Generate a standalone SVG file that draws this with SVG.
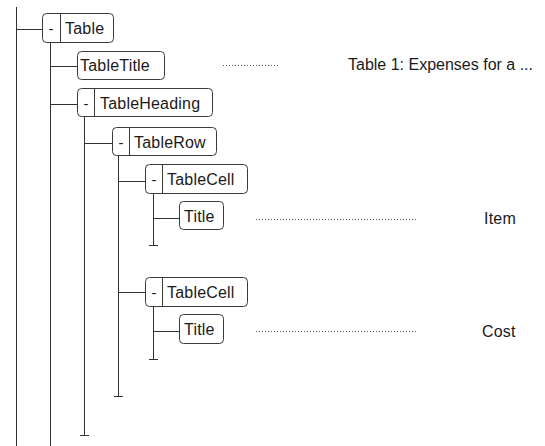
<svg xmlns="http://www.w3.org/2000/svg" width="545" height="446" viewBox="0 0 545 446">
<style>
.bg{fill:#fff}
.box{fill:#fff;stroke:#3a3a3a;stroke-width:1}
.sep{stroke:#3a3a3a;stroke-width:1}
.ln{stroke:#333;stroke-width:1;fill:none}
.dot{stroke:#555;stroke-width:1;stroke-dasharray:1 2;fill:none}
.t{font-family:"Liberation Sans",Arial,sans-serif;font-size:16px;fill:#1a1a1a;letter-spacing:0.2px}
.v{font-family:"Liberation Sans",Arial,sans-serif;font-size:16px;fill:#1a1a1a}
.m{font-family:"Liberation Sans",Arial,sans-serif;font-size:15px;fill:#1a1a1a}
</style>
<rect class="bg" x="0" y="0" width="545" height="446"/>
<g id="connectors">
<path class="ln" d="M16.5 7V446"/>
<path class="ln" d="M50.5 42V446"/>
<path class="ln" d="M84.5 117V435.5M80 435.5H89"/>
<path class="ln" d="M118.5 155V396.5M114 396.5H123"/>
<path class="ln" d="M153.5 193V245.5M149 245.5H158"/>
<path class="ln" d="M153.5 306V359.5M149 359.5H158"/>
<path class="ln" d="M16 29.5H42"/>
<path class="ln" d="M50 66.5H77"/>
<path class="ln" d="M50 104.5H77"/>
<path class="ln" d="M84 143.5H112"/>
<path class="ln" d="M118 181.5H145"/>
<path class="ln" d="M153 218.5H179"/>
<path class="ln" d="M118 292.5H145"/>
<path class="ln" d="M153 331.5H179"/>
<path class="dot" d="M223 65.5H279"/>
<path class="dot" d="M256 219.5H418"/>
<path class="dot" d="M256 331.5H418"/>
</g>
<g id="node-table">
<rect class="box" x="42.5" y="13.5" width="71" height="29" rx="4"/>
<path class="sep" d="M60.5 13.5V42.5"/>
<text class="m" x="51" y="34" text-anchor="middle">-</text>
<text class="t" x="65" y="34">Table</text>
</g>
<g id="node-tabletitle">
<rect class="box" x="77.5" y="51.5" width="87" height="28" rx="4"/>
<text class="t" x="80" y="71">TableTitle</text>
</g>
<g id="node-tableheading">
<rect class="box" x="77.5" y="88.5" width="135" height="28" rx="4"/>
<path class="sep" d="M94.5 88.5V116.5"/>
<text class="m" x="86" y="109" text-anchor="middle">-</text>
<text class="t" x="100" y="109">TableHeading</text>
</g>
<g id="node-tablerow">
<rect class="box" x="112.5" y="127.5" width="104" height="28" rx="4"/>
<path class="sep" d="M129.5 127.5V155.5"/>
<text class="m" x="121" y="148" text-anchor="middle">-</text>
<text class="t" x="134" y="148">TableRow</text>
</g>
<g id="node-tablecell-1">
<rect class="box" x="145.5" y="164.5" width="102" height="29" rx="4"/>
<path class="sep" d="M162.5 164.5V193.5"/>
<text class="m" x="154" y="185" text-anchor="middle">-</text>
<text class="t" x="167" y="185">TableCell</text>
</g>
<g id="node-title-1">
<rect class="box" x="179.5" y="201.5" width="44" height="28" rx="4"/>
<text class="t" x="184" y="222">Title</text>
<text class="t" x="484" y="224">Item</text>
</g>
<g id="node-tablecell-2">
<rect class="box" x="145.5" y="277.5" width="102" height="29" rx="4"/>
<path class="sep" d="M162.5 277.5V306.5"/>
<text class="m" x="154" y="298" text-anchor="middle">-</text>
<text class="t" x="167" y="298">TableCell</text>
</g>
<g id="node-title-2">
<rect class="box" x="179.5" y="314.5" width="44" height="29" rx="4"/>
<text class="t" x="184" y="335">Title</text>
<text class="t" x="482" y="337">Cost</text>
</g>
<g id="node-tabletitle-value">
<text class="v" x="348" y="70">Table 1: Expenses for a ...</text>
</g>
</svg>
